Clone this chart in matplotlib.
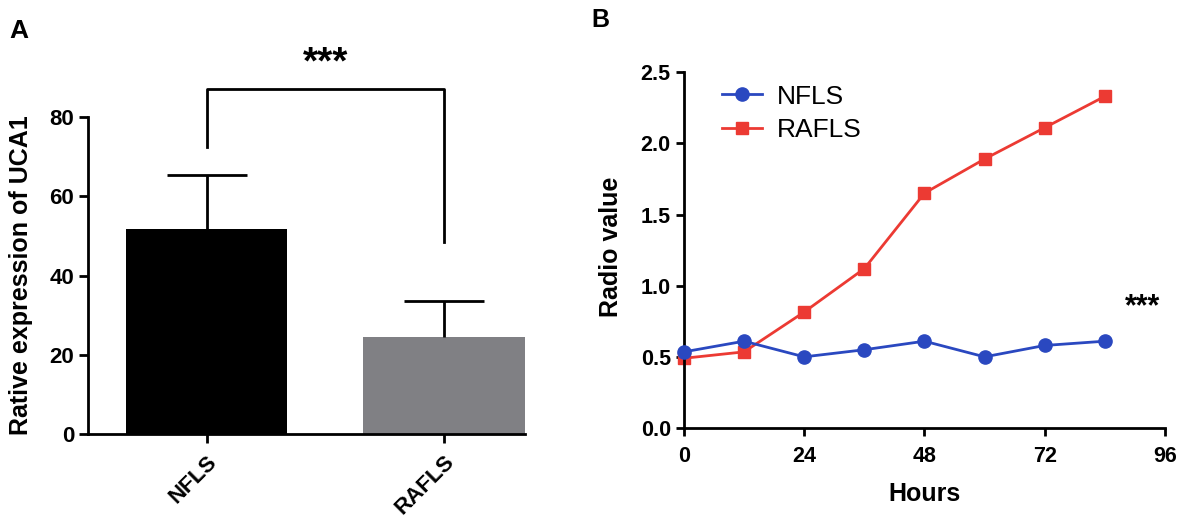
import numpy as np
import matplotlib.pyplot as plt

plt.rcParams['font.family'] = ['Liberation Sans', 'DejaVu Sans']

# panel A data
groups = ["NFLS", "RAFLS"]
expr_mean = [51.7, 24.5]
expr_err = [13.8, 9.0]
bar_colors = ["#000000", "#808084"]

# panel B data
hours = [0, 12, 24, 36, 48, 60, 72, 84]
nfls = [0.535, 0.61, 0.50, 0.55, 0.61, 0.50, 0.58, 0.61]
rafls = [0.49, 0.535, 0.815, 1.12, 1.65, 1.89, 2.11, 2.33]

fig = plt.figure(figsize=(11.93, 5.18), dpi=100)

lw = 2.0
tick_fs = 15.5

# ---- panel A ----
ax1 = fig.add_axes([0.0738, 0.162, 0.366, 0.612])
x = np.arange(len(groups))
ax1.bar(x, expr_mean, width=0.68, color=bar_colors, zorder=2)
for xi, m, e in zip(x, expr_mean, expr_err):
    eb = ax1.errorbar(xi, m, yerr=[[0], [e]], color="black", lw=lw,
                      capsize=29, capthick=lw, zorder=3)
    eb[1][0].set_visible(False)  # only the upper cap
ax1.set_xlim(-0.5, 1.34)
ax1.set_ylim(0, 80)
ax1.set_yticks([0, 20, 40, 60, 80])
ax1.set_xticks(x)
ax1.set_xticklabels(groups, rotation=45, ha="right", rotation_mode="anchor",
                    fontsize=16, fontweight="bold")
ax1.set_ylabel("Rative expression of UCA1", fontsize=18, fontweight="bold")
ax1.yaxis.set_label_coords(-0.125, 0.5)
ax1.spines[["top", "right"]].set_visible(False)
ax1.spines[["left", "bottom"]].set_linewidth(lw)
ax1.tick_params(width=lw, length=6.5, labelsize=16)
ax1.tick_params(axis="x", pad=6)
for t in ax1.get_yticklabels():
    t.set_fontweight("bold")

# significance bracket
ax1.plot([0, 0, 1, 1], [72.5, 87, 87, 48.5], color="black", lw=lw,
         clip_on=False)
ax1.text(0.5, 91.0, "***", ha="center", va="baseline", fontsize=28,
         fontweight="bold")

fig.text(0.008, 0.927, "A", fontsize=19, fontweight="bold")

# ---- panel B ----
ax2 = fig.add_axes([0.5733, 0.1737, 0.4032, 0.687])
ax2.plot(hours, nfls, "-o", color="#2a48c0", lw=2, ms=9.5, label="NFLS",
         clip_on=False, zorder=3)
ax2.plot(hours, rafls, "-s", color="#ec3a33", lw=2, ms=8.5, label="RAFLS",
         clip_on=False, zorder=2)
ax2.set_xlim(0, 96)
ax2.set_ylim(0, 2.5)
ax2.set_xticks([0, 24, 48, 72, 96])
ax2.set_yticks([0.0, 0.5, 1.0, 1.5, 2.0, 2.5])
ax2.set_yticklabels(["0.0", "0.5", "1.0", "1.5", "2.0", "2.5"])
ax2.spines[["top", "right"]].set_visible(False)
ax2.spines[["left", "bottom"]].set_linewidth(lw)
ax2.tick_params(width=lw, length=6, labelsize=tick_fs)
ax2.tick_params(axis="x", pad=7)
for t in ax2.get_xticklabels() + ax2.get_yticklabels():
    t.set_fontweight("bold")
ax2.set_xlabel("Hours", fontsize=18, fontweight="bold", labelpad=11)
ax2.set_ylabel("Radio value", fontsize=18, fontweight="bold")
ax2.yaxis.set_label_coords(-0.127, 0.51)
ax2.text(91.6, 0.79, "***", ha="center", va="baseline", fontsize=22,
         fontweight="bold")
ax2.legend(loc="upper left", bbox_to_anchor=(0.079, 0.965), frameon=False,
           fontsize=19, handlelength=1.5, handletextpad=0.6,
           labelspacing=0.35, borderpad=0, borderaxespad=0)

fig.text(0.496, 0.948, "B", fontsize=18, fontweight="bold")

fig.savefig("out.png", dpi=100)
